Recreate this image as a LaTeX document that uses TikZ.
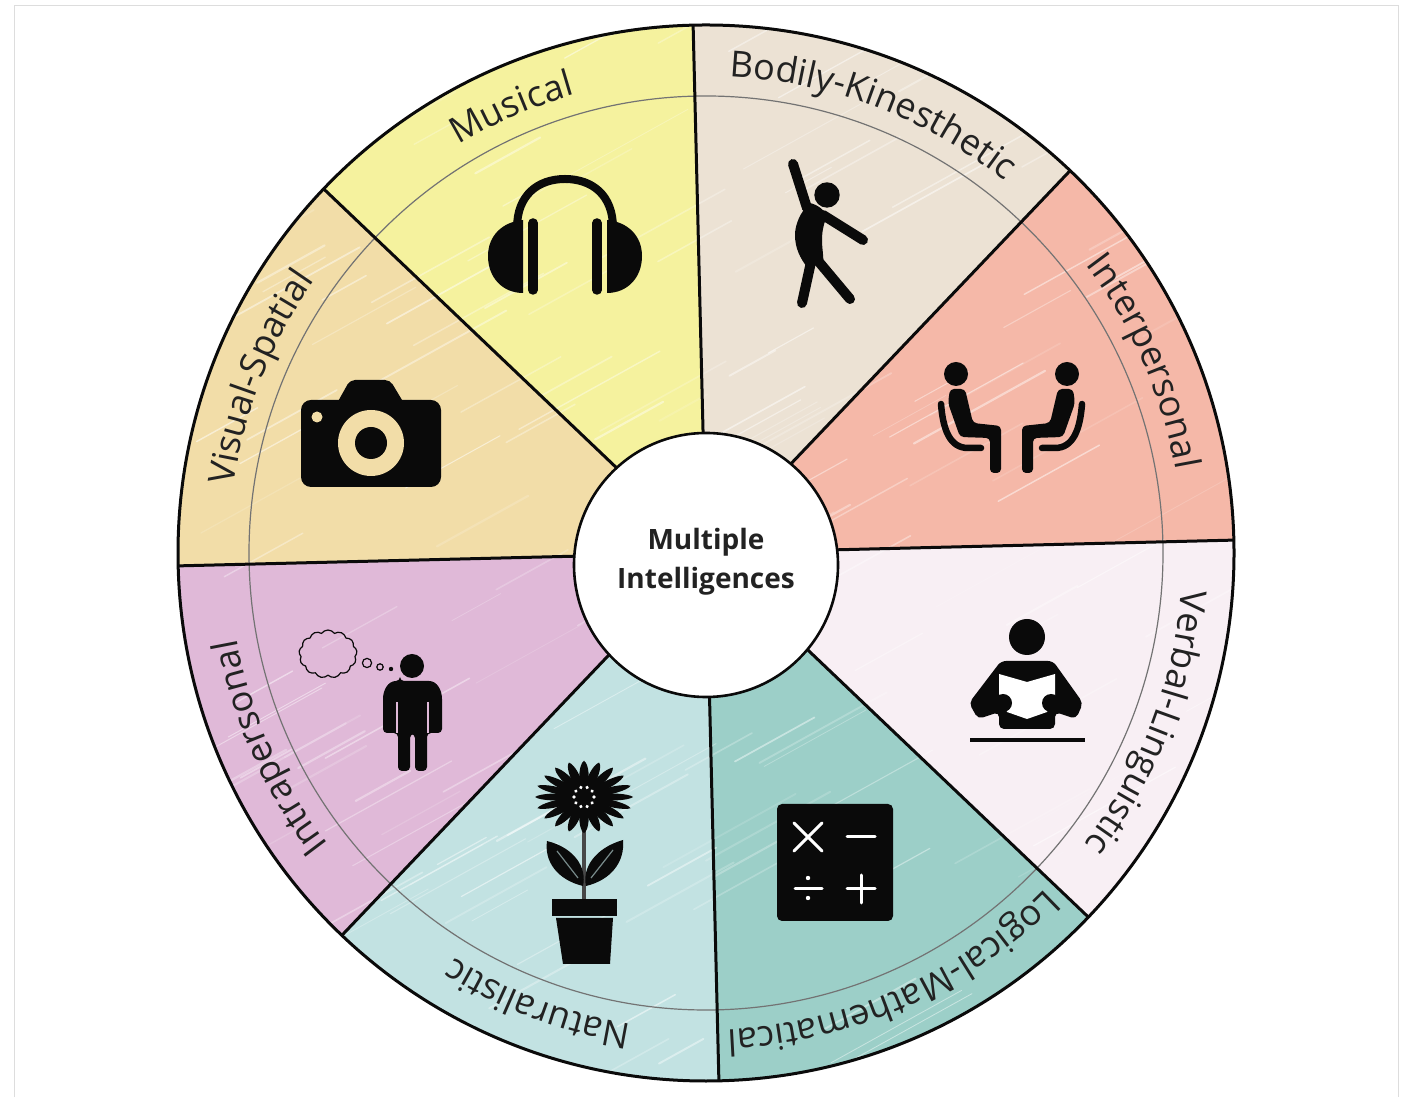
\documentclass[tikz,border=0pt]{standalone}
\usepackage{fontspec}
\setmainfont{Open Sans}
\usetikzlibrary{decorations.text,shapes.symbols}
\definecolor{secMus}{HTML}{F5F29E}
\definecolor{secBod}{HTML}{ECE2D4}
\definecolor{secInter}{HTML}{F5B8A8}
\definecolor{secVer}{HTML}{F8EFF4}
\definecolor{secLog}{HTML}{9CCFC8}
\definecolor{secNat}{HTML}{C2E2E2}
\definecolor{secIntra}{HTML}{E0B9D8}
\definecolor{secVis}{HTML}{F2DDA8}
\definecolor{ink}{HTML}{0A0A0A}
\definecolor{framegray}{HTML}{DDDDDD}
\newcommand{\sectorfill}[3]{\fill[#3] (0,0) -- (#1:528pt) arc[start angle=#1,end angle=#2,radius=528pt] -- cycle;}
\newcommand{\arclabel}[2]{\path[decorate,decoration={text along path,text align=center,text={|\fontsize{36}{40}\selectfont\color{ink!90}|#2}}] (#1+26:477pt) arc[start angle=#1+26,end angle=#1-26,radius=477pt];}
\newcommand{\spoke}[1]{\draw[wheelline] (0,0) -- (#1:528pt);}
\tikzset{
  wheelline/.style={ink,line width=3pt},
  ringline/.style={black!55,line width=1.2pt},
  iconline/.style={ink,line cap=round,line join=round},
  whiteline/.style={white,line cap=round,line width=3pt},
}
\begin{document}
\begin{tikzpicture}[x=1pt,y=1pt]
\useasboundingbox (0,0) rectangle (1404,1097);
\fill[white] (0,0) rectangle (1404,1097);
\draw[framegray,line width=1.6pt] (14.5,0) -- (14.5,1091.5) -- (1398.5,1091.5) -- (1398.5,0);
\begin{scope}[shift={(706,544)}]
  \sectorfill{91.4}{136.4}{secMus}
  \sectorfill{46.4}{91.4}{secBod}
  \sectorfill{1.4}{46.4}{secInter}
  \sectorfill{-43.6}{1.4}{secVer}
  \sectorfill{-88.6}{-43.6}{secLog}
  \sectorfill{-133.6}{-88.6}{secNat}
  \sectorfill{-178.6}{-133.6}{secIntra}
  \sectorfill{136.4}{181.4}{secVis}
  \begin{scope}
    \clip (0,0) circle (528pt);
    \pgfmathsetseed{11}
    \foreach \i in {1,...,190}{
      \pgfmathsetmacro\px{rnd*1060-530}
      \pgfmathsetmacro\py{rnd*1060-530}
      \pgfmathsetmacro\ln{50+rnd*130}
      \pgfmathsetmacro\op{0.12+rnd*0.4}
      \pgfmathsetmacro\lw{0.8+rnd*1.4}
      \draw[white,opacity=\op,line width=\lw pt,line cap=round] (\px,\py) -- ++(29:\ln);
    }
  \end{scope}
  \draw[ringline] (0,0) circle (457pt);
  \spoke{91.4}\spoke{46.4}\spoke{1.4}\spoke{-43.6}\spoke{-88.6}\spoke{-133.6}\spoke{-178.6}\spoke{136.4}
  \draw[wheelline] (0,0) circle (528pt);
  \arclabel{113.6}{Musical}
  \arclabel{69.2}{Bodily-Kinesthetic}
  \arclabel{23.6}{Interpersonal}
  \arclabel{-21}{Verbal-Linguistic}
  \arclabel{-66}{Logical-Mathematical}
  \arclabel{-110.5}{Naturalistic}
  \arclabel{-156}{Intrapersonal}
  \arclabel{158.5}{Visual-Spatial}
\end{scope}
\node[circle,draw=ink,line width=2.6pt,fill=white,minimum size=264pt,inner sep=0pt] (hub) at (706,532) {};
\node[align=center,inner sep=0pt,font=\fontsize{28}{39}\selectfont\bfseries,text=ink!90] (hublabel) at ([yshift=3pt]hub.center) {Multiple\\Intelligences};
\begin{scope}[x=1pt,y=-1pt,yshift=1097pt]
  % headphones
  \draw[iconline,line width=8pt,line cap=butt] (517,228) .. controls (517,195) and (538,179) .. (565,179) .. controls (592,179) and (613,195) .. (613,228);
  \fill[ink] (523,220) .. controls (502,222) and (488,236) .. (488,256) .. controls (488,278) and (503,293) .. (523,293) -- cycle;
  \fill[ink] (607,220) .. controls (628,222) and (642,236) .. (642,256) .. controls (642,278) and (627,293) .. (607,293) -- cycle;
  \draw[iconline,line width=9.5pt] (533,223) -- (533,290);
  \draw[iconline,line width=9.5pt] (597,223) -- (597,290);
  % camera
  \fill[ink,rounded corners=10pt] (301,400) rectangle (441,487);
  \fill[ink,rounded corners=5pt] (336,405) -- (350,380) -- (390,380) -- (405,405) -- cycle;
  \fill[secVis] (371,443) circle (33pt);
  \fill[ink] (371,443) circle (16pt);
  \fill[secVis] (317,417) circle (5.5pt);
  % dancer
  \fill[ink] (827,195) circle (12.7pt);
  \draw[iconline,line width=10pt] (793,164) -- (807,208);
  \draw[iconline,line width=10pt] (823,215) -- (863,240);
  \fill[ink] (810,203) .. controls (818,205) and (824,210) .. (827,215) .. controls (824,224) and (822,230) .. (822,240) .. controls (822,250) and (824,256) .. (823,264) -- (807,267) .. controls (800,258) and (795,248) .. (795,235) .. controls (795,225) and (800,212) .. (810,203) -- cycle;
  \draw[iconline,line width=10pt] (811,262) -- (802,303);
  \draw[iconline,line width=10pt] (819,262) -- (850,299);
  % two sitting people
  \fill[ink] (956,374) circle (12pt);
  \fill[ink] (1067,374) circle (12pt);
  \fill[ink,rounded corners=4pt] (950,389) -- (965,389) -- (973,423) -- (1001,426) -- (1001,473) -- (990,473) -- (990,438) -- (960,437) -- (948,403) -- cycle;
  \fill[ink,rounded corners=4pt] (1073,389) -- (1058,389) -- (1050,423) -- (1022,426) -- (1022,473) -- (1033,473) -- (1033,438) -- (1063,437) -- (1075,403) -- cycle;
  \draw[iconline,line width=6.5pt] (941,404) .. controls (943,430) and (950,448) .. (968,448) -- (981,448);
  \draw[iconline,line width=6.5pt] (1082,404) .. controls (1080,430) and (1073,448) .. (1055,448) -- (1042,448);
  % reader
  \fill[ink] (1027,637) circle (18pt);
  \fill[ink,rounded corners=5pt] (1001,661) -- (1053,661) -- (1083,703) -- (1076,719) -- (1055,712) -- (1055,729) -- (999,729) -- (999,712) -- (978,719) -- (969,703) -- cycle;
  \fill[white] (999,674) -- (1027,682) -- (1055,674) -- (1055,696) -- (1047,712) -- (1027,719) -- (1007,712) -- (999,696) -- cycle;
  \fill[ink] (1003,703) circle (9pt);
  \fill[ink] (1051,703) circle (9pt);
  \draw[ink,line width=3.5pt] (970,740) -- (1085,740);
  % calculator
  \fill[ink,rounded corners=5pt] (777,804) rectangle (893,921);
  \draw[whiteline] (794,823) -- (822,851);
  \draw[whiteline] (822,823) -- (794,851);
  \draw[whiteline] (847,837) -- (875,837);
  \draw[whiteline] (795,889) -- (822,889);
  \fill[white] (808,878) circle (2.2pt);
  \fill[white] (808,898) circle (2.2pt);
  \draw[whiteline] (847,889) -- (875,889);
  \draw[whiteline] (861,875) -- (861,903);
  % flower
  \draw[ink!75,line width=3.5pt] (584,825) -- (584,902);
  \foreach \a in {0,18,...,342}{
    \fill[ink,shift={(584,797)},yscale=0.74,rotate=\a] (10,-3) .. controls (25,-6) and (44,-5) .. (49,0) .. controls (44,5) and (25,6) .. (10,3) -- cycle;
  }
  \fill[ink] (584,797) circle (14pt);
  \foreach \a in {0,36,...,324}{
    \fill[white,shift={(584,797)},rotate=\a] (10,0) circle (1.8pt);
  }
  \fill[ink] (547,841) .. controls (575,848) and (587,868) .. (583,886) .. controls (558,880) and (544,862) .. (547,841) -- cycle;
  \fill[ink] (623,840) .. controls (595,848) and (582,868) .. (586,886) .. controls (611,880) and (625,862) .. (623,840) -- cycle;
  \draw[ink!40!secNat,line width=1.2pt] (557,851) -- (578,878);
  \draw[ink!40!secNat,line width=1.2pt] (613,850) -- (591,878);
  \fill[ink] (552,899) rectangle (617,916);
  \fill[ink] (556,918) -- (613,918) -- (610,964) -- (563,964) -- cycle;
  % thinker
  \node[cloud,cloud puffs=13,cloud puff arc=110,aspect=1.2,draw=ink,line width=1.2pt,minimum width=58pt,minimum height=48pt,inner sep=0pt] (thought) at (328,654) {};
  \draw[ink,line width=1.2pt] (367,663) circle (4.6pt);
  \draw[ink,line width=1.2pt] (380,667) circle (3.2pt);
  \fill[ink] (391,669) circle (2.2pt);
  \fill[ink] (412,666) circle (12pt);
  \fill[ink,rounded corners=4pt] (400,681) -- (425,681) .. controls (437,681) and (442,690) .. (442,703) -- (442,733) -- (427,733) -- (427,771) -- (415,771) -- (415,734) -- (410,734) -- (410,771) -- (398,771) -- (398,733) -- (383,733) -- (383,703) .. controls (383,690) and (388,681) .. (400,681) -- cycle;
  \draw[secIntra,line width=1.3pt] (397,702) -- (397,733);
  \draw[secIntra,line width=1.3pt] (428,702) -- (428,733);
\end{scope}
\end{tikzpicture}
\end{document}
